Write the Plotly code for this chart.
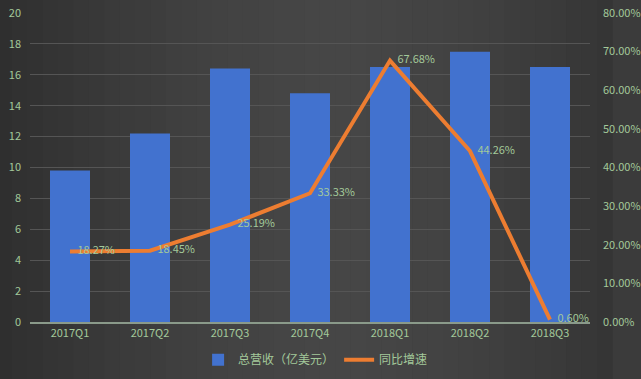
import plotly.graph_objects as go

categories = ["2017Q1", "2017Q2", "2017Q3", "2017Q4", "2018Q1", "2018Q2", "2018Q3"]
revenue = [9.8, 12.2, 16.4, 14.8, 16.5, 17.5, 16.5]
growth = [0.1827, 0.1845, 0.2519, 0.3333, 0.6768, 0.4426, 0.0060]
growth_labels = ["18.27%", "18.45%", "25.19%", "33.33%", "67.68%", "44.26%", "0.60%"]

txt = "#a3c99a"
font_family = "Noto Sans CJK SC, Noto Sans, sans-serif"

fig = go.Figure()
fig.add_trace(go.Bar(
    x=categories, y=revenue, name="总营收（亿美元）",
    marker=dict(color="#4272cf", line=dict(width=0)),
    width=0.5, yaxis="y",
))
fig.add_trace(go.Scatter(
    x=categories, y=growth, name="同比增速", yaxis="y2",
    mode="lines+text", line=dict(color="#ed7d31", width=4),
    text=["   " + t for t in growth_labels], textposition="middle right",
    textfont=dict(color=txt, size=11), cliponaxis=False,
))

# background horizontal gradient (darker edges, lighter centre)
shapes = []
n = 40
for i in range(n):
    c = (i + 0.5) / n
    d = abs(c - 0.55) / 0.55
    v = int(round(0x46 - (0x46 - 0x2e) * min(d, 1) ** 1.6))
    col = "#%02x%02x%02x" % (v, v, v)
    shapes.append(dict(type="rect", xref="paper", yref="paper", layer="below",
                       x0=-0.06 + i * 1.1 / n, x1=-0.06 + (i + 1.02) * 1.1 / n,
                       y0=-0.2, y1=1.05, fillcolor=col, line=dict(width=0)))

fig.update_layout(
    width=641, height=379,
    margin=dict(l=30, r=51, t=13, b=57, autoexpand=False),
    paper_bgcolor="#3b3b3b", plot_bgcolor="rgba(0,0,0,0)",
    font=dict(family=font_family, color=txt, size=11),
    shapes=shapes,
    showlegend=True,
    legend=dict(orientation="h", x=0.51, xanchor="center", y=-0.075, yanchor="top",
                bgcolor="rgba(0,0,0,0)",
                font=dict(color=txt, size=12), itemwidth=30),
    xaxis=dict(showgrid=False, tickfont=dict(color=txt, size=11), ticks="",
               showline=True, linecolor="#8a9a8a", linewidth=1.5),
    yaxis=dict(range=[0, 20], dtick=2, gridcolor="#555555", gridwidth=1,
               zeroline=False, tickfont=dict(color=txt, size=11), ticks="",
               ticklabelstandoff=8),
    yaxis2=dict(range=[0, 0.8], dtick=0.1, tickformat=".2%", overlaying="y",
                side="right", showgrid=False, zeroline=False,
                tickfont=dict(color=txt, size=11), ticks="", ticklabelstandoff=12),
)

fig.write_html("out.html", config={"displayModeBar": False},
               post_script="document.body.style.margin='0';document.body.style.background='#3b3b3b';")
